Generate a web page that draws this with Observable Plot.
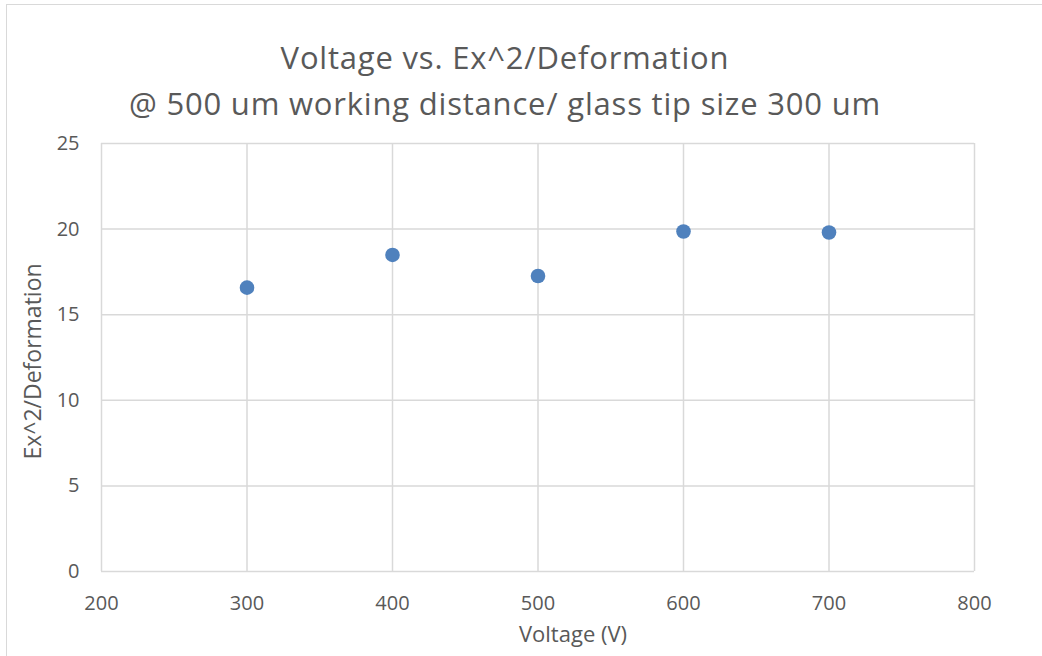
<!DOCTYPE html>
<html>
<head>
<meta charset="utf-8">
<script src="https://cdn.jsdelivr.net/npm/d3@7"></script>
<script src="https://cdn.jsdelivr.net/npm/@observablehq/plot@0.6"></script>
<style>
  html, body { margin: 0; padding: 0; background: #fff; }
  #chart { position: relative; width: 1042px; height: 656px; overflow: hidden; font-family: "Open Sans", sans-serif; }
  #border { position: absolute; left: 6px; top: 4px; width: 1100px; height: 700px; border: 1.5px solid #d9d9d9; box-sizing: border-box; }
  #title { position: absolute; left: 0; top: 34px; width: 1010px; text-align: center; color: #595959; font-size: 31px; letter-spacing: 0.8px; line-height: 46px; }
  #plot { position: absolute; left: 0; top: 0; }
</style>
</head>
<body>
<div id="chart">
  <div id="border"></div>
  <div id="plot"></div>
  <div id="title">Voltage vs. Ex^2/Deformation<br>@ 500 um working distance/ glass tip size 300 um</div>
</div>
<script>
// Measurements: Ex^2/Deformation at each applied voltage
const voltages = [300, 400, 500, 600, 700];
const ratios = [16.58, 18.49, 17.26, 19.86, 19.80];

const xTicks = [200, 300, 400, 500, 600, 700, 800];
const yTicks = [0, 5, 10, 15, 20, 25];

const data = voltages.map((v, i) => ({voltage: v, ratio: ratios[i]}));

const grid = "#d9d9d9";
const textColor = "#595959";

const chart = Plot.plot({
  width: 1042,
  height: 656,
  marginLeft: 101,
  marginRight: 68,
  marginTop: 143,
  marginBottom: 85,
  style: {fontFamily: "Open Sans, sans-serif", fontSize: "20px", color: textColor, background: "transparent"},
  x: {domain: [200, 800], ticks: xTicks},
  y: {domain: [0, 25], ticks: yTicks},
  marks: [
    Plot.gridX(xTicks, {stroke: grid, strokeOpacity: 1, strokeWidth: 1.5}),
    Plot.gridY(yTicks, {stroke: grid, strokeOpacity: 1, strokeWidth: 1.5}),
    Plot.axisX(xTicks, {tickSize: 0, tickPadding: 24, fontSize: 20, fill: textColor, label: null}),
    Plot.axisY(yTicks, {tickSize: 0, tickPadding: 22, fontSize: 20, fill: textColor, label: null}),
    Plot.text(["Voltage (V)"], {frameAnchor: "bottom", dx: 35, dy: 70, fontSize: 22, fill: textColor, letterSpacing: 0.5}),
    Plot.text(["Ex^2/Deformation"], {frameAnchor: "left", textAnchor: "middle", dx: -68, dy: 4, rotate: -90, fontSize: 23, fill: textColor, letterSpacing: 1.6}),
    Plot.dot(data, {x: "voltage", y: "ratio", r: 7.3, fill: "#4f81bd", stroke: "none"})
  ]
});

document.getElementById("plot").appendChild(chart);
</script>
</body>
</html>
